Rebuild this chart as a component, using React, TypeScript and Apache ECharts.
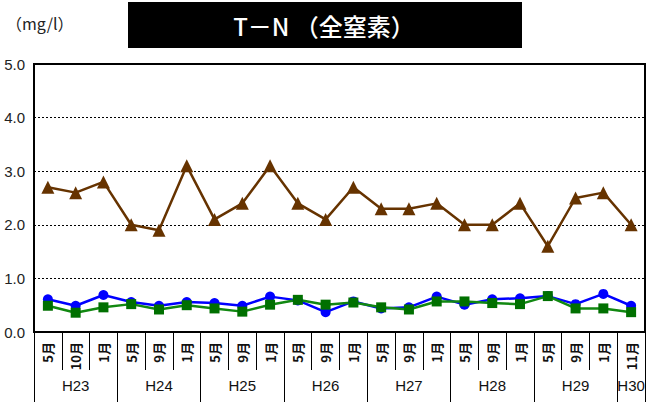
import React, { useEffect, useRef } from "react";
import * as echarts from "echarts";

const months = ["5月", "10月", "1月", "5月", "9月", "1月", "5月", "9月", "1月", "5月", "9月", "1月", "5月", "9月", "1月", "5月", "9月", "1月", "5月", "9月", "1月", "11月"];
const yearLabels = ["", "H23", "", "", "H24", "", "", "H25", "", "", "H26", "", "", "H27", "", "", "H28", "", "", "H29", "", "H30"];
const groupStarts = [0, 3, 6, 9, 12, 15, 18, 21];

const seriesBrown = [2.7, 2.6, 2.8, 2.0, 1.9, 3.1, 2.1, 2.4, 3.1, 2.4, 2.1, 2.7, 2.3, 2.3, 2.4, 2.0, 2.0, 2.4, 1.6, 2.5, 2.6, 2.0];
const seriesBlue = [0.61, 0.49, 0.69, 0.56, 0.49, 0.56, 0.54, 0.49, 0.66, 0.59, 0.37, 0.57, 0.44, 0.46, 0.66, 0.51, 0.61, 0.63, 0.67, 0.52, 0.71, 0.49];
const seriesGreen = [0.49, 0.36, 0.46, 0.52, 0.42, 0.5, 0.44, 0.38, 0.51, 0.6, 0.51, 0.55, 0.46, 0.42, 0.57, 0.57, 0.54, 0.52, 0.67, 0.44, 0.44, 0.37];

const yMin = 0;
const yMax = 5;
const yInterval = 1;

export default function App() {
  const ref = useRef<HTMLDivElement>(null);
  useEffect(() => {
    if (!ref.current) return;
    const chart = echarts.init(ref.current, null, { renderer: "svg" });
    const sansFont = "'Liberation Sans', Arial, sans-serif";
    const jpFont = "'Noto Sans CJK JP', sans-serif";
    chart.setOption({
      animation: false,
      backgroundColor: "#ffffff",
      grid: {
        left: 34,
        right: 6,
        top: 64,
        bottom: 74,
        show: true,
        borderColor: "#000",
        borderWidth: 2,
        backgroundColor: "transparent",
        containLabel: false,
        outerBoundsMode: "none",
      },
      graphic: [
        {
          type: "rect",
          left: 128,
          top: 2,
          shape: { width: 394, height: 46 },
          style: { fill: "#000" },
          silent: true,
        },
        {
          type: "text",
          x: 324,
          y: 25,
          style: {
            text: "T－N （全窒素）",
            fill: "#fff",
            font: `500 24px ${jpFont}`,
            textAlign: "center",
            textVerticalAlign: "middle",
          },
          silent: true,
        },
        {
          type: "text",
          x: 6,
          y: 23,
          style: {
            text: "（mg/l）",
            fill: "#222",
            font: `16px ${jpFont}`,
            textAlign: "left",
            textVerticalAlign: "middle",
          },
          silent: true,
        },
      ],
      xAxis: [
        {
          type: "category",
          data: months,
          boundaryGap: true,
          position: "bottom",
          axisLine: { show: true, lineStyle: { color: "#000", width: 2 } },
          axisTick: { show: true, interval: 0, length: 38, lineStyle: { color: "#000", width: 1 } },
          axisLabel: {
            interval: 0,
            rotate: 90,
            margin: 10,
            fontSize: 13,
            fontWeight: "bold",
            color: "#111",
            fontFamily: jpFont,
          },
          splitLine: { show: false },
        },
        {
          type: "category",
          data: yearLabels,
          boundaryGap: true,
          position: "bottom",
          axisLine: { show: false },
          axisTick: {
            show: true,
            length: 70,
            interval: (index: number) => groupStarts.indexOf(index) >= 0,
            lineStyle: { color: "#000", width: 1 },
          },
          axisLabel: {
            interval: 0,
            margin: 46,
            fontSize: 15,
            color: "#111",
            fontFamily: sansFont,
          },
          splitLine: { show: false },
        },
      ],
      yAxis: {
        type: "value",
        min: yMin,
        max: yMax,
        interval: yInterval,
        axisLine: { show: true, lineStyle: { color: "#000", width: 2 } },
        axisTick: { show: false },
        axisLabel: {
          formatter: (v: number) => v.toFixed(1),
          fontSize: 15,
          color: "#222",
          margin: 9,
          fontFamily: sansFont,
        },
        splitLine: { show: true, lineStyle: { color: "#000", type: [2, 2], width: 1 } },
      },
      series: [
        {
          type: "line",
          data: seriesBrown,
          symbol: "triangle",
          symbolSize: 13,
          lineStyle: { color: "#663300", width: 2.5 },
          itemStyle: { color: "#663300" },
        },
        {
          type: "line",
          data: seriesBlue,
          symbol: "circle",
          symbolSize: 10,
          lineStyle: { color: "#0000ff", width: 2.5 },
          itemStyle: { color: "#0000ff" },
        },
        {
          type: "line",
          data: seriesGreen,
          symbol: "rect",
          symbolSize: 10,
          lineStyle: { color: "#118811", width: 2.5 },
          itemStyle: { color: "#007000" },
        },
      ],
    });
    return () => chart.dispose();
  }, []);
  return (
    <div
      ref={ref}
      style={{ position: "absolute", left: 0, top: 0, width: 651, height: 406 }}
    />
  );
}
